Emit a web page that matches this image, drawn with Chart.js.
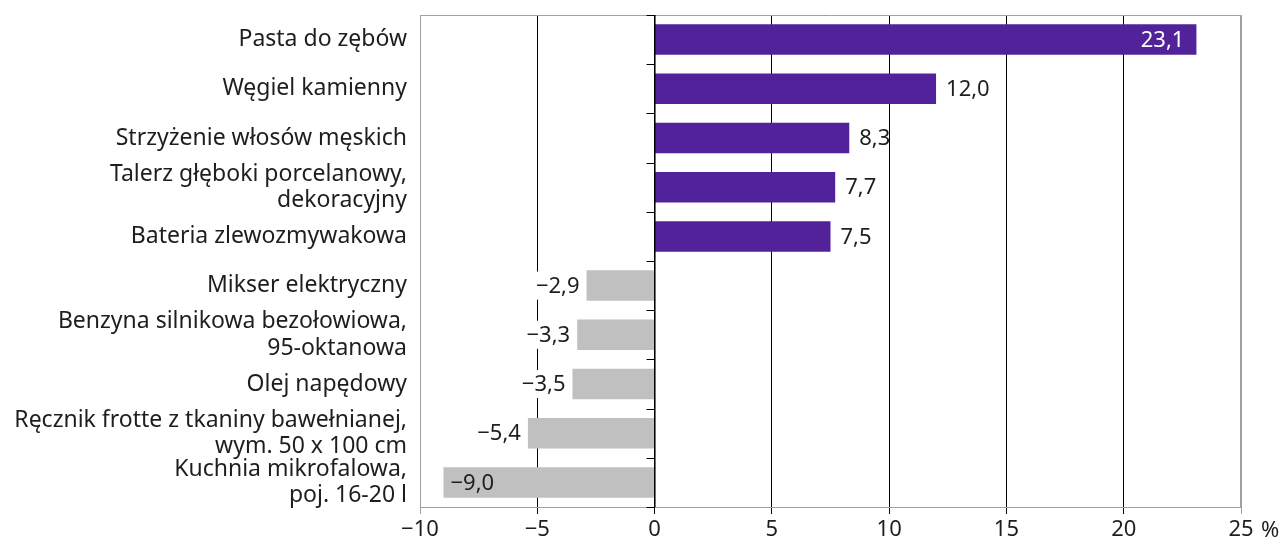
<!DOCTYPE html>
<html lang="pl">
<head>
<meta charset="utf-8">
<script src="https://cdn.jsdelivr.net/npm/chart.js@4"></script>
<style>
  html, body { margin: 0; padding: 0; background: #fff; }
  #wrap { width: 1285px; height: 543px; }
</style>
</head>
<body>
<div id="wrap"><canvas id="wykres"></canvas></div>
<script>
const kategorie = [
  "Pasta do zębów",
  "Węgiel kamienny",
  "Strzyżenie włosów męskich",
  ["Talerz głęboki porcelanowy,", "dekoracyjny"],
  "Bateria zlewozmywakowa",
  "Mikser elektryczny",
  ["Benzyna silnikowa bezołowiowa,", "95-oktanowa"],
  "Olej napędowy",
  ["Ręcznik frotte z tkaniny bawełnianej,", "wym. 50 x 100 cm"],
  ["Kuchnia mikrofalowa,", "poj. 16-20 l"]
];

const zmiany = [23.1, 12.0, 8.3, 7.7, 7.5, -2.9, -3.3, -3.5, -5.4, -9.0];

const osMin = -10;
const osMax = 25;
const osKrok = 5;

const fioletowy = "#51229a";
const szary = "#c0c0c0";
const ramka = "#a0a0a0";
const tekst = "#1e1e1e";
const czcionka = "'Noto Sans', sans-serif";
const rozmiar = 22;

function formatLiczby(v, miejsca) {
  return v.toFixed(miejsca).replace(".", ",").replace("-", "\u2212");
}

const dekoracje = {
  id: "dekoracje",
  afterDatasetsDraw(chart) {
    const ctx = chart.ctx;
    const area = chart.chartArea;
    const x = chart.scales.x;
    const y = chart.scales.y;
    const x0 = x.getPixelForValue(0);

    ctx.save();

    // ramka wykresu
    ctx.strokeStyle = ramka;
    ctx.lineWidth = 1;
    ctx.beginPath();
    ctx.moveTo(area.left + 0.5, area.bottom);
    ctx.lineTo(area.left + 0.5, area.top + 0.5);
    ctx.lineTo(area.right - 0.5, area.top + 0.5);
    ctx.lineTo(area.right - 0.5, area.bottom);
    ctx.stroke();

    // linia zera z kreskami podziału kategorii
    ctx.strokeStyle = "#000";
    ctx.beginPath();
    ctx.moveTo(x0 + 0.5, area.top);
    ctx.lineTo(x0 + 0.5, area.bottom);
    const n = kategorie.length;
    for (let i = 0; i <= n; i++) {
      let py;
      if (i === 0) py = area.top;
      else if (i === n) py = area.bottom;
      else py = (y.getPixelForValue(i - 1) + y.getPixelForValue(i)) / 2;
      ctx.moveTo(x0 - 8, Math.round(py) + 0.5);
      ctx.lineTo(x0 + 0.5, Math.round(py) + 0.5);
    }
    ctx.stroke();

    // etykiety wartości
    ctx.font = rozmiar + "px " + czcionka;
    ctx.textBaseline = "middle";
    const meta = chart.getDatasetMeta(0);
    meta.data.forEach((bar, i) => {
      const v = zmiany[i];
      const t = formatLiczby(v, 1);
      const w = ctx.measureText(t).width;
      const py = bar.y + 1;
      if (v >= 0) {
        if (v > 20) {
          ctx.fillStyle = "#fff";
          ctx.textAlign = "right";
          ctx.fillText(t, bar.x - 12, py);
        } else {
          ctx.fillStyle = tekst;
          ctx.textAlign = "left";
          ctx.fillText(t, bar.x + 10, py);
        }
      } else {
        if (v < -8) {
          ctx.fillStyle = tekst;
          ctx.textAlign = "left";
          ctx.fillText(t, bar.x + 7, py);
        } else {
          ctx.fillStyle = "#fff";
          ctx.fillRect(bar.x - 7 - w - 3, bar.y - 14, w + 6, 28);
          ctx.fillStyle = tekst;
          ctx.textAlign = "right";
          ctx.fillText(t, bar.x - 7, py);
        }
      }
    });

    // jednostka osi
    ctx.fillStyle = tekst;
    ctx.textAlign = "left";
    ctx.textBaseline = "middle";
    ctx.fillText("%", area.right + 20, 531);

    ctx.restore();
  }
};

new Chart(document.getElementById("wykres"), {
  type: "bar",
  data: {
    labels: kategorie,
    datasets: [{
      data: zmiany,
      backgroundColor: zmiany.map(v => v >= 0 ? fioletowy : szary),
      barPercentage: 0.62,
      categoryPercentage: 1
    }]
  },
  options: {
    indexAxis: "y",
    responsive: true,
    maintainAspectRatio: false,
    animation: false,
    devicePixelRatio: 1,
    layout: {
      padding: { top: 15, right: 44, left: 0, bottom: 0 }
    },
    plugins: {
      legend: { display: false },
      tooltip: { enabled: false }
    },
    scales: {
      x: {
        min: osMin,
        max: osMax,
        afterFit(scale) {
          scale.height = 36;
          scale.paddingLeft = 0;
          scale.paddingRight = 0;
        },
        ticks: {
          stepSize: osKrok,
          color: tekst,
          padding: 3,
          font: { family: czcionka, size: rozmiar },
          callback: v => formatLiczby(v, 0)
        },
        grid: {
          color: c => (c.tick.value === osMin || c.tick.value === osMax) ? ramka : "#000",
          lineWidth: 1,
          tickLength: 7
        },
        border: { color: ramka }
      },
      y: {
        afterFit(scale) {
          scale.width = 420;
          scale.paddingTop = 0;
          scale.paddingBottom = 0;
        },
        ticks: {
          autoSkip: false,
          color: tekst,
          padding: 13,
          font: { family: czcionka, size: 23, lineHeight: 1.15 }
        },
        grid: { display: false, drawTicks: false },
        border: { display: false }
      }
    }
  },
  plugins: [dekoracje]
});
</script>
</body>
</html>
